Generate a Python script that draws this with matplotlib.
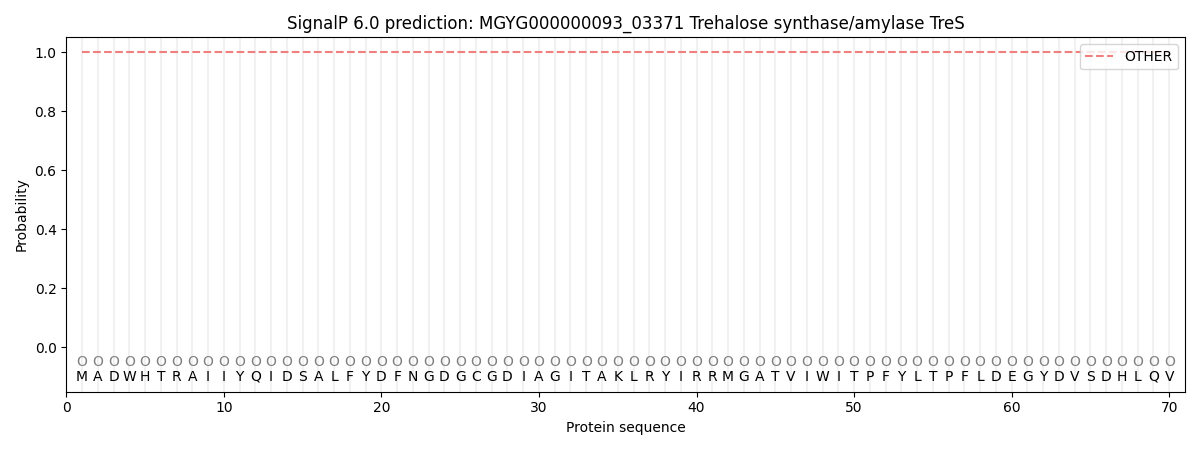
import matplotlib
matplotlib.use("Agg")
import matplotlib.pyplot as plt

sequence = list("MADWHTRAIIYQIDSALFYDFNGDGCGDIAGITAKLRYIRRMGATVIWITPFYLTPFLDEGYDVSDHLQV")
region_labels = ["O"] * len(sequence)
positions = list(range(1, len(sequence) + 1))
prob_other = [1.0] * len(sequence)

fig, ax = plt.subplots(figsize=(12, 4.5), dpi=100)

for p in positions:
    ax.axvline(p, color="#e8e8e8", linewidth=1.5, alpha=0.6, zorder=0)

ax.plot(positions, prob_other, linestyle="--", color="#f08080", linewidth=1.5, label="OTHER")

for p, lab, aa in zip(positions, region_labels, sequence):
    ax.text(p, -0.05, lab, ha="center", va="center", fontsize=10, color="grey")
    ax.text(p, -0.1, aa, ha="center", va="center", fontsize=10, color="black")

ax.set_xlim(0, 71)
ax.set_ylim(-0.15, 1.05)
ax.set_xlabel("Protein sequence")
ax.set_ylabel("Probability")
ax.set_title("SignalP 6.0 prediction: MGYG000000093_03371 Trehalose synthase/amylase TreS")
ax.legend(loc="upper right")

fig.tight_layout()
fig.savefig("out.png")
